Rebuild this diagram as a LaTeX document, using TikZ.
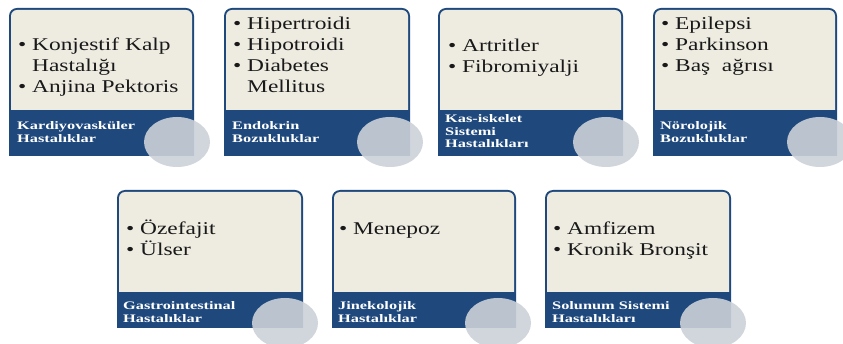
\documentclass[tikz,border=0pt]{standalone}
\usepackage{fontspec}
\setmainfont{Liberation Serif}[FakeStretch=1.3]
\newfontfamily\labfont{Liberation Serif}[FakeStretch=1.42]
\definecolor{cblue}{HTML}{1F497D}
\definecolor{cbeige}{HTML}{EEECE1}
\definecolor{cell}{HTML}{CDD1D9}
\newcommand{\bl}{\llap{\textbullet\hspace{6pt}}}
\newcommand{\lines}[1]{\begin{tabular}[t]{@{}l@{}}#1\end{tabular}}
\tikzset{
  items/.style={inner sep=0pt, anchor=base west, text=black!90,
    font=\fontsize{18}{21}\selectfont},
  lab/.style={inner sep=0pt, anchor=base west, text=white,
    font=\labfont\bfseries\fontsize{11.5}{12.5}\selectfont},
  bubble/.style={fill=cell, fill opacity=0.9}
}
\begin{document}
\begin{tikzpicture}[x=1pt,y=-1pt]
\useasboundingbox (0,0) rectangle (843,344);
\fill[white] (0,0) rectangle (843,344);
% top row cards
\foreach \a/\b in {9/194,224/410,438/623,653/837}{
  \fill[cblue] (\a,156) -- (\a,16) arc[start angle=180,end angle=90,radius=8pt] -- (\b-8,8) arc[start angle=90,end angle=0,radius=8pt] -- (\b,156) -- cycle;
  \fill[cbeige] (\a+2,110) -- (\a+2,16) arc[start angle=180,end angle=90,radius=6pt] -- (\b-8,10) arc[start angle=90,end angle=0,radius=6pt] -- (\b-2,110) -- cycle;
}
% bottom row cards
\foreach \a/\b in {117/303,332/516,545/731}{
  \fill[cblue] (\a,328) -- (\a,198) arc[start angle=180,end angle=90,radius=8pt] -- (\b-8,190) arc[start angle=90,end angle=0,radius=8pt] -- (\b,328) -- cycle;
  \fill[cbeige] (\a+2,292) -- (\a+2,198) arc[start angle=180,end angle=90,radius=6pt] -- (\b-8,192) arc[start angle=90,end angle=0,radius=6pt] -- (\b-2,292) -- cycle;
}
% bullet texts
\node[items] (t1) at (32,51) {\lines{\bl Konjestif Kalp\\Hastalığı\\\bl Anjina Pektoris}};
\node[items] (t2) at (247,30) {\lines{\bl Hipertroidi\\\bl Hipotroidi\\\bl Diabetes\\Mellitus}};
\node[items] (t3) at (462,52) {\lines{\bl Artritler\\\bl Fibromiyalji}};
\node[items] (t4) at (675,30) {\lines{\bl Epilepsi\\\bl Parkinson\\\bl Baş\ \ ağrısı}};
\node[items] (t5) at (140,235) {\lines{\bl Özefajit\\\bl Ülser}};
\node[items] (t6) at (353,235) {\lines{\bl Menepoz}};
\node[items] (t7) at (567,235) {\lines{\bl Amfizem\\\bl Kronik Bronşit}};
% labels
\node[lab] (l1) at (17,130) {\lines{Kardiyovasküler\\Hastalıklar}};
\node[lab] (l2) at (232,130) {\lines{Endokrin\\Bozukluklar}};
\node[lab] (l3) at (445,123) {\lines{Kas-iskelet\\Sistemi\\Hastalıkları}};
\node[lab] (l4) at (660,130) {\lines{Nörolojik\\Bozukluklar}};
\node[lab] (l5) at (123,310) {\lines{Gastrointestinal\\Hastalıklar}};
\node[lab] (l6) at (338,310) {\lines{Jinekolojik\\Hastalıklar}};
\node[lab] (l7) at (552,310) {\lines{Solunum Sistemi\\Hastalıkları}};
% bubbles
\foreach \cx/\cy in {177/142,390/142,606/142,820/142,285/323,498/323,713/323}{
  \fill[bubble] (\cx,\cy) ellipse [x radius=33pt, y radius=25pt];
}
\end{tikzpicture}
\end{document}
